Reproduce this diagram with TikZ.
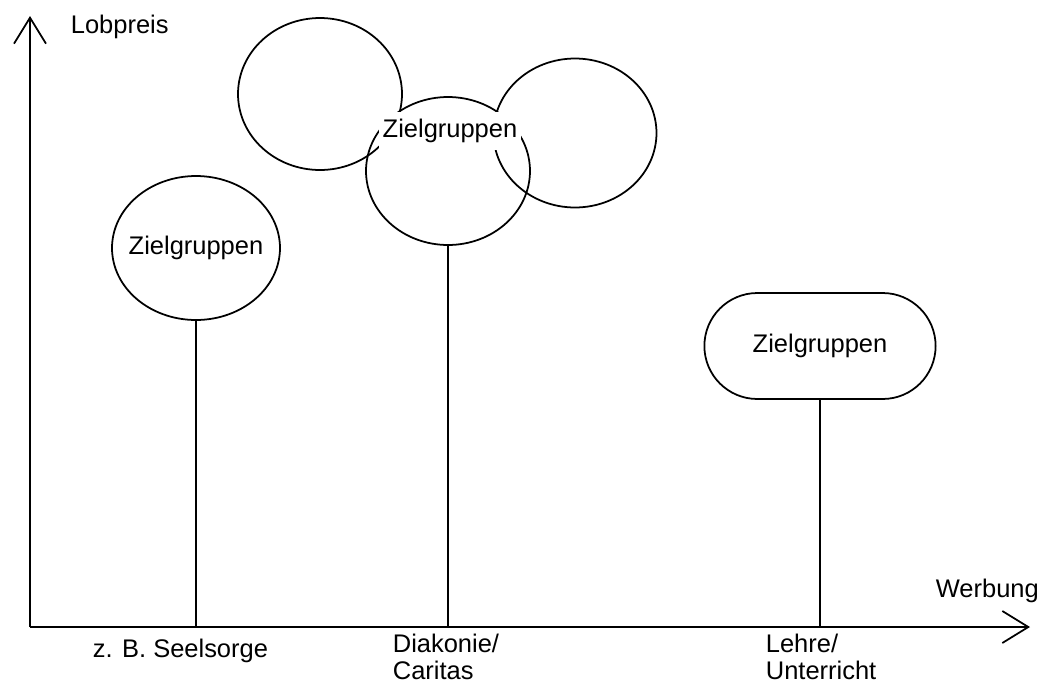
\documentclass[tikz,border=0pt]{standalone}
\usepackage{fontspec}
\setmainfont{Liberation Sans}
\usetikzlibrary{arrows.meta,shapes.geometric,shapes.misc}

\begin{document}
\begin{tikzpicture}[x=0.02cm,y=-0.02cm,line width=1pt,
        every node/.style={font=\fontsize{14.5}{15}\selectfont},
        ziel/.style={draw,ellipse,inner sep=0pt},
        txt/.style={anchor=base west,inner sep=0pt,align=left},
        achse/.style={-{Straight Barb[length=0.52cm,width=0.64cm]}}]
            \useasboundingbox (0,0) rectangle (1039,684);
            \coordinate (o) at (30,627);
            \coordinate (ytip) at (30,16);
            \coordinate (xtip) at (1030,627);
            \draw[achse] (o) -- (ytip);
            \draw[achse] (o) -- (xtip);
            \draw (196,248) node[ziel,minimum width=3.36cm,minimum height=2.88cm,label=center:Zielgruppen](c1){};
            \draw (320,94) node[ziel,minimum width=3.28cm,minimum height=3.04cm](c2){};
            \draw (448,171) node[ziel,minimum width=3.28cm,minimum height=2.96cm](c3){};
            \draw (575,133) node[ziel,minimum width=3.26cm,minimum height=2.98cm](c4){};
            \draw (450,131) node[fill=white,inner xsep=2pt,inner ysep=4pt](t3){Zielgruppen};
            \draw (820,346) node[draw,rounded rectangle,minimum width=4.86cm,minimum height=2.12cm](p4){Zielgruppen};
            \draw (c1.south) -- (c1.south |- o);
            \draw (c3.south) -- (c3.south |- o);
            \draw (p4.south) -- (p4.south |- o);
            \node[txt] (lob) at (70,33) {Lobpreis};
            \node[txt] (werb) at (935,597) {Werbung};
            \node[txt] (see) at (92,657) {z. B. Seelsorge};
            \node[txt] (dia) at (392,679) {Diakonie/\\Caritas};
            \node[txt] (leh) at (765,679) {Lehre/\\Unterricht};
\end{tikzpicture}
\end{document}
